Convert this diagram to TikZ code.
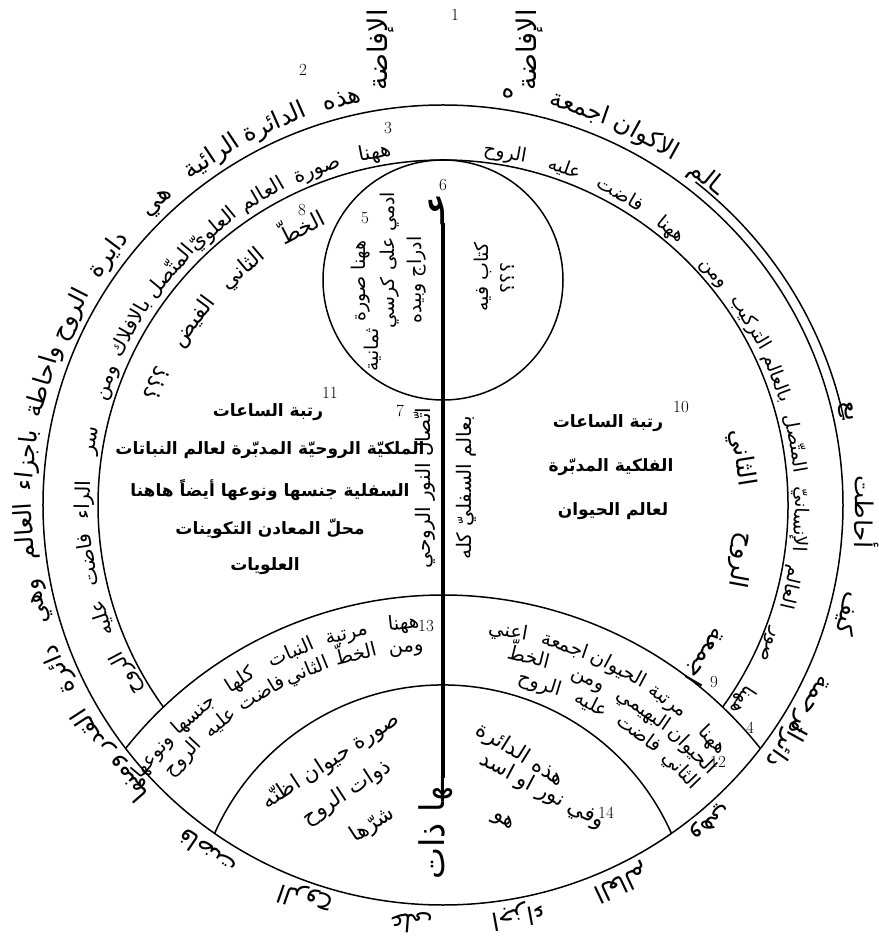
\documentclass[tikz,border=0pt]{standalone}
\usepackage{fontspec}
\usepackage{graphicx}
\usetikzlibrary{calc}
\TeXXeTstate=1
\newfontfamily\arabicfont[Script=Arabic]{DejaVu Sans}
\newcommand\outerf{\arabicfont\fontsize{24.5}{28}\selectfont}
\newcommand\ringLf{\arabicfont\fontsize{20.5}{24}\selectfont}
\newcommand\ringRf{\arabicfont\fontsize{19}{23}\selectfont}
\newcommand\innerf{\arabicfont\fontsize{22}{26}\selectfont}
\newcommand\innerRf{\arabicfont\fontsize{25}{29}\selectfont}
\newcommand\bandf{\arabicfont\fontsize{19.5}{23}\selectfont}
\newcommand\cenf{\arabicfont\bfseries\fontsize{17}{20}\selectfont}
\newcommand\qf{\arabicfont\fontsize{21.5}{25}\selectfont}
\newcommand\vf{\arabicfont\fontsize{19}{23}\selectfont}
\newcommand\stemf{\arabicfont\fontsize{20}{24}\selectfont}
\newcommand\bigf{\arabicfont\fontsize{34}{40}\selectfont}
\newcommand\numf{\fontsize{17}{20}\selectfont}
\newcommand\padw[1]{\hspace{7pt}#1\hspace{7pt}}
\newcommand\padl[1]{#1\hspace{9pt}}
\newdimen\awW \newdimen\awS \newcount\awN
% #1 cx, #2 cy, #3 baseline radius, #4 start angle, #5 end angle, #6 font, #7 words
\newcommand\arcwords[7]{%
  \global\awS=0pt \global\awN=0
  \foreach \w in {#7}{%
    \settowidth\awW{#6\beginR\w\endR}%
    \global\advance\awS by \awW
    \global\advance\awN by 1
  }%
  \pgfmathsetmacro\awgap{(((#5)-(#4))*pi/180*(#3)-\awS)/max(\the\awN-1,1)}%
  \xdef\awang{#4}%
  \foreach \w in {#7}{%
    \settowidth\awW{#6\beginR\w\endR}%
    \pgfmathsetmacro\awspan{\awW/(#3)*180/pi}%
    \pgfmathsetmacro\awmid{\awang+\awspan/2}%
    \node[rotate=\awmid-90,anchor=base,inner sep=0pt] at ($(#1,#2)+(\awmid:#3)$) {#6\beginR\w\endR};
    \pgfmathsetmacro\awnext{\awang+(\awW+\awgap)/(#3)*180/pi}%
    \xdef\awang{\awnext}%
  }%
}
\tikzset{
  ring/.style={line width=1.5pt},
  num/.style={font=\numf, inner sep=0pt},
  vtext/.style={rotate=90, inner sep=0pt},
  ctext/.style={inner sep=0pt}
}
\begin{document}
\begin{tikzpicture}[x=1pt,y=1pt]
\useasboundingbox (-443,-431) rectangle (435,505);
\coordinate (O) at (0,0);
\coordinate (Pc) at (0,-495);
\coordinate (Qc) at (0,-430);
\coordinate (Dc) at (0,225);
% circles and arcs
\draw[ring] (O) circle[radius=400];
\draw[ring] (12:410) arc[start angle=12,end angle=52,radius=410];
\draw[ring] (-35.85:345) arc[start angle=-35.85,end angle=215.85,radius=345];
\draw[ring] ($(Pc)+(38.4:405)$) arc[start angle=38.4,end angle=141.6,radius=405];
\draw[ring] ($(Qc)+(24:250)$) arc[start angle=24,end angle=156,radius=250];
\draw[ring] (Dc) circle[radius=120];
% thick stem
\coordinate (stemtop) at (0,282);
\coordinate (stembot) at (0,-273);
\draw[line width=4.5pt] (stemtop) -- (stembot);
\node[rotate=90,anchor=base west,inner sep=0pt] (ain) at (1,280) {\arabicfont\bfseries\fontsize{30}{34}\selectfont\beginR عـ\endR};
\node[rotate=90,anchor=base east,inner sep=0pt] (dhat) at (1,-271) {\bigf\beginR ـها ذات\endR};
% outer spiral text
\arcwords{0}{0}{411}{104}{213}{\outerf}{هذه,الدائرة,الرائية,هي,دايرة,الروح,\padl{واحاطة},باجزاء,العالم,وهي,دائرة,القدر}
\arcwords{0}{0}{411}{221}{325}{\outerf}{ومنها,فاضت,الروح,على,اجزاء,العالم,وهي,دائرة}
\arcwords{0}{0}{412}{331}{373}{\outerf}{الرحمة,كيف,أحاطت,بع}
\arcwords{0}{0}{413}{51}{81}{\outerf}{ـالم,الاكوان,اجمعة,ه}
% second ring
\arcwords{0}{0}{353}{101}{208}{\ringLf}{ههنا,صورة,العالم,العلويّ,\padl{المتّصل},بالافلاك,ومن,سر,الراء,فاضت,عليه,الروح}
\arcwords{0}{0}{352}{-33}{80}{\ringRf}{ههنا,صور,العالم,\padw{الإنسانيّ},\padw{المتّصل},بالعالم,التركيب,ومن,ههنا,فاضت,عليه,الروح}
% inner ring texts
\arcwords{0}{0}{303}{117}{157}{\innerf}{الخطّ,الثاني,الفيض,؟؟؟}
\arcwords{0}{0}{296}{-30}{9}{\innerRf}{اجمعة,الروح,الثاني}
% lower band
\arcwords{0}{-495}{373}{96}{140}{\bandf}{ههنا,مرتبة,النبات,كلها,جنسها,ونوعها}
\arcwords{0}{-495}{350}{96}{137}{\bandf}{ومن,الخطّ,الثاني,فاضت,عليه,الروح}
\arcwords{0}{-495}{369}{44}{80}{\bandf}{ههنا,مرتبة,الحيوان,اجمعة,اعني}
\arcwords{0}{-495}{347}{45}{76}{\bandf}{الحيوان,البهيمي,ومن,الخطّ}
\arcwords{0}{-495}{325}{44}{73}{\bandf}{الثاني,فاضت,عليه,الروح}
% top labels
\node[vtext] (ifl) at (-62,455) {\arabicfont\fontsize{27}{30}\selectfont\beginR الإفاضة\endR};
\node[vtext] (ifr) at (87,455) {\arabicfont\fontsize{27}{30}\selectfont\beginR الإفاضة\endR};
% small circle texts
\node[vtext] (d1) at (-82,224) {\vf\beginR ههنا صورة\endR};
\node[vtext] (d2) at (-53,245) {\vf\beginR ادمي على كرسي\endR};
\node[vtext] (d3) at (-70,155) {\vf\beginR ثمانية\endR};
\node[vtext] (d4) at (-26,225) {\vf\beginR ادراج وبيده\endR};
\node[vtext] (d5) at (40,228) {\vf\beginR كتاب فيه\endR};
\node[vtext] (d6) at (64,227) {\vf\beginR ؟؟؟\endR};
% stem side texts
\node[vtext] (s1) at (-18,17) {\stemf\beginR اتّصال النور الروحي\endR};
\node[vtext] (s2) at (23,17) {\stemf\beginR بعالم السفليّ كله\endR};
% central left block
\node[ctext] (l1) at (-175,93) {\cenf\beginR رتبة الساعات\endR};
\node[ctext] (l2) at (-173,55) {\cenf\beginR الملكيّة الروحيّة المدبّرة لعالم النباتات\endR};
\node[ctext] (l3) at (-173,15) {\cenf\beginR السفلية جنسها ونوعها أيضاً هاهنا\endR};
\node[ctext] (l4) at (-173,-24) {\cenf\beginR محلّ المعادن التكوينات\endR};
\node[ctext] (l5) at (-178,-61) {\cenf\beginR العلويات\endR};
% central right block
\node[ctext] (r1) at (165,82) {\cenf\beginR رتبة الساعات\endR};
\node[ctext] (r2) at (168,38) {\cenf\beginR الفلكية المدبّرة\endR};
\node[ctext] (r3) at (170,-6) {\cenf\beginR لعالم الحيوان\endR};
% bottom lens texts
\node[ctext,rotate=33] (q1) at (-112,-256) {\qf\beginR صورة حيوان اظنّه\endR};
\node[ctext,rotate=33] (q2) at (-96,-288) {\qf\beginR ذوات الروح\endR};
\node[ctext,rotate=33] (q3) at (-70,-320) {\qf\beginR شرّها\endR};
\node[ctext,rotate=-32] (q4) at (77,-250) {\qf\beginR هذه الدائرة\endR};
\node[ctext,rotate=-28] (q5) at (99,-286) {\qf\beginR وفي نور او اسد\endR};
\node[ctext,rotate=-32] (q6) at (60,-316) {\qf\beginR هو\endR};
% number labels
\node[num] (n1) at (12,490) {1};
\node[num] (n2) at (-140,435) {2};
\node[num] (n3) at (-55,377) {3};
\node[num] (n4) at (307,-223) {4};
\node[num] (n5) at (-78,287) {5};
\node[num] (n6) at (0,320) {6};
\node[num] (n7) at (-43,94) {7};
\node[num] (n8) at (-141,295) {8};
\node[num] (n9) at (271,-177) {9};
\node[num] (n10) at (238,98) {10};
\node[num] (n11) at (-113,112) {11};
\node[num] (n12) at (275,-257) {12};
\node[num] (n13) at (-17,-121) {13};
\node[num] (n14) at (163,-308) {14};
\end{tikzpicture}
\end{document}
